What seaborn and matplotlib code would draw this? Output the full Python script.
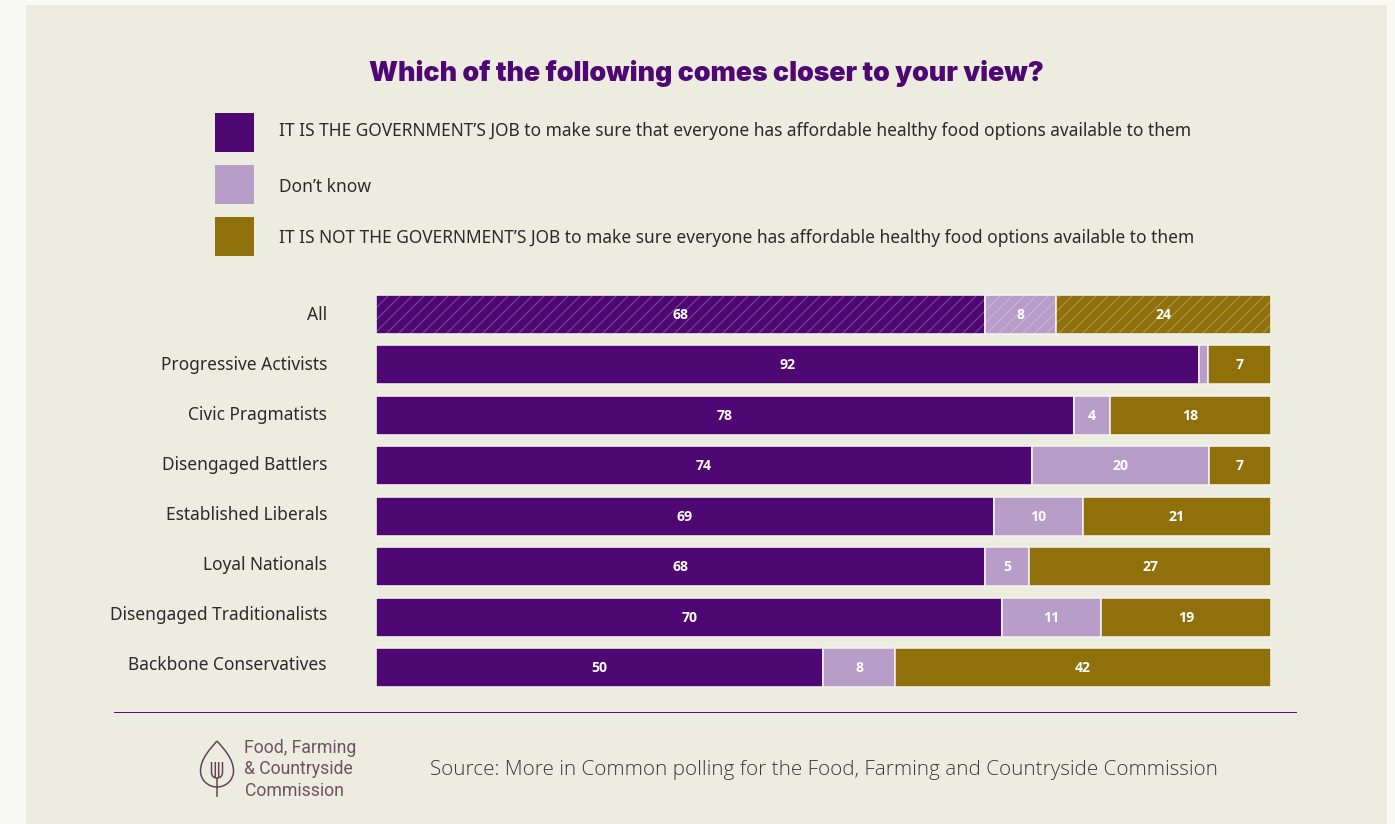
import numpy as np
import pandas as pd
import matplotlib
matplotlib.use("Agg")
import matplotlib.pyplot as plt
from matplotlib.patches import Rectangle, PathPatch
from matplotlib.path import Path
from matplotlib.transforms import Affine2D, ScaledTranslation
import seaborn as sns

# Poll results, percentages per segment
segments = ["All", "Progressive Activists", "Civic Pragmatists", "Disengaged Battlers",
            "Established Liberals", "Loyal Nationals", "Disengaged Traditionalists",
            "Backbone Conservatives"]
govt_job = [68, 92, 78, 74, 69, 68, 70, 50]
dont_know = [8, 1, 4, 20, 10, 5, 11, 8]
not_govt_job = [24, 7, 18, 7, 21, 27, 19, 42]

series_names = ["IT IS THE GOVERNMENT\u2019S JOB to make sure that everyone has affordable healthy food options available to them",
                "Don\u2019t know",
                "IT IS NOT THE GOVERNMENT\u2019S JOB to make sure everyone has affordable healthy food options available to them"]
series_colors = ["#4F0773", "#B99DC9", "#8F700B"]
title_text = "Which of the following comes closer to your view?"
source_text = "Source: More in Common polling for the Food, Farming and Countryside Commission"
logo_lines = ["Food, Farming", "& Countryside", "Commission"]

W, H = 1395, 824
PAGE, PANEL = "#F9FAF4", "#ECECE0"

sns.set_theme(style="white")
plt.rcParams["font.family"] = ["Noto Sans", "DejaVu Sans"]
plt.rcParams["hatch.linewidth"] = 1.0

fig = plt.figure(figsize=(W / 72, H / 72), dpi=72, facecolor=PAGE)


def fx(x):
    return x / W


def fy(y):
    return 1 - y / H


fig.add_artist(Rectangle((fx(26), 0), fx(1387 - 26), fy(5), transform=fig.transFigure,
                         facecolor=PANEL, edgecolor="none", zorder=-1))

# Stacked bars, each row normalised to the width of the plot
ax = fig.add_axes([fx(376), fy(692.7), fx(1271 - 376), (692.7 - 289.3) / H])
ax.patch.set_alpha(0)
df = pd.DataFrame({"segment": segments, "a": govt_job, "b": dont_know, "c": not_govt_job})
shares = df[["a", "b", "c"]].div(df[["a", "b", "c"]].sum(axis=1), axis=0) * 100
left = np.zeros(len(df))
for col, color in zip(["a", "b", "c"], series_colors):
    sns.barplot(x=shares[col].values, y=df["segment"], order=segments, orient="y", left=left,
                color=color, saturation=1, width=0.773, edgecolor="#F3F3EC", linewidth=1.6,
                errorbar=None, ax=ax, zorder=2)
    for y, (value, share, start) in enumerate(zip(df[col], shares[col], left)):
        if value >= 4:
            ax.text(start + share / 2, y + 0.01, str(value), ha="center", va="center",
                    color="white", fontsize=14, fontweight="bold", family="Open Sans", zorder=5)
    # Diagonal hatching marks the overall row
    ax.barh(0, shares[col].iloc[0], left=left[0], height=0.773, facecolor="none",
            edgecolor=(1, 1, 1, 0.28), linewidth=0, hatch="//", zorder=3)
    left = left + shares[col].values

ax.set_xlim(0, 100)
ax.set_ylim(7.5, -0.5)
ax.set_xlabel("")
ax.set_ylabel("")
ax.set_xticks([])
ax.set_yticks(range(len(segments)))
ax.set_yticklabels(segments, fontsize=17.35, color="#2B2B2B")
ax.tick_params(axis="y", length=0, pad=49)
# Row labels sit on a slightly tighter rhythm than the bars
for i, label in enumerate(ax.get_yticklabels()):
    label.set_transform(label.get_transform()
                        + ScaledTranslation(0, (2 + 2 * i / 7) / 72, fig.dpi_scale_trans))
sns.despine(ax=ax, left=True, bottom=True)

# Title
fig.text(fx(706), fy(73.5), title_text, ha="center", va="center", fontsize=26.75,
         fontweight="black", family="Inter", color="#4F0773")

# Legend swatches and labels
for yc, yt, name, color in zip([132.5, 184.5, 236.5], [131, 187, 238], series_names, series_colors):
    fig.add_artist(Rectangle((fx(215), fy(yc + 19.5)), 39 / W, 39 / H, transform=fig.transFigure,
                             facecolor=color, edgecolor="none"))
    fig.text(fx(279), fy(yt), name, ha="left", va="center", fontsize=17.37, color="#2B2B2B")

# Rule above the footer
fig.add_artist(Rectangle((fx(114), fy(713)), fx(1297 - 114), 1 / H, transform=fig.transFigure,
                         facecolor="#560A86", edgecolor="none"))

# Footer: leaf and fork emblem with wordmark, then the source
LOGO = "#644056"
to_fig = Affine2D().scale(1 / W, -1 / H).translate(0, 1) + fig.transFigure
leaf = Path([(217, 741), (210, 749), (200.5, 759), (200.5, 771),
             (200.5, 780), (208, 787), (217, 787),
             (226, 787), (233.5, 780), (233.5, 771),
             (233.5, 759), (224, 749), (217, 741)],
            [Path.MOVETO] + [Path.CURVE4] * 12)
fork = Path([(211.5, 762), (211.5, 772), (211.5, 778), (217, 778), (222.5, 778), (222.5, 772), (222.5, 762),
             (215.3, 762), (215.3, 777), (218.7, 762), (218.7, 777), (217, 778), (217, 797)],
            [Path.MOVETO, Path.LINETO, Path.CURVE3, Path.CURVE3, Path.CURVE3, Path.CURVE3, Path.LINETO,
             Path.MOVETO, Path.LINETO, Path.MOVETO, Path.LINETO, Path.MOVETO, Path.LINETO])
for shape in (leaf, fork):
    fig.add_artist(PathPatch(shape, transform=to_fig, facecolor="none", edgecolor=LOGO, linewidth=1.5))
for yc, line in zip([748, 769, 791], logo_lines):
    fig.text(fx(244.5), fy(yc), line, ha="left", va="center", fontsize=17.6,
             family="Roboto", color="#6F5163")
fig.text(fx(430), fy(770), source_text, ha="left", va="center", fontsize=20.6,
         fontweight="light", family="Open Sans", color="#3A3A3A")

fig.savefig("out.png", dpi=72, facecolor=PAGE)
